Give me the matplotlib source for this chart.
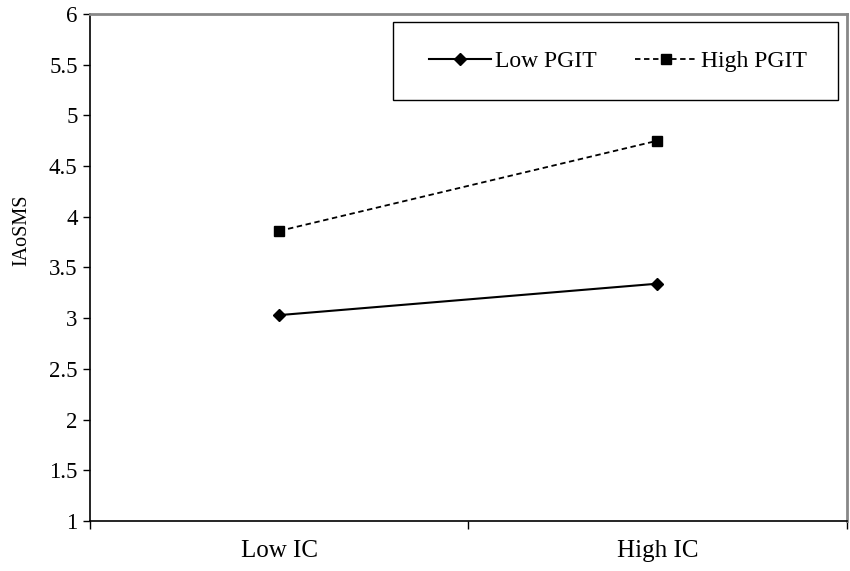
import matplotlib
matplotlib.use("Agg")
import matplotlib.pyplot as plt
from matplotlib.patches import Rectangle

plt.rcParams['font.family'] = ['Liberation Serif', 'DejaVu Serif']

categories = ['Low IC', 'High IC']
low_pgit = [3.03, 3.34]
high_pgit = [3.86, 4.75]
y_ticks = [1, 1.5, 2, 2.5, 3, 3.5, 4, 4.5, 5, 5.5, 6]

fig = plt.figure(figsize=(8.5, 5.71), dpi=100)
ax = fig.add_axes([0.106, 0.0876, 0.89, 0.888])

x = [0.5, 1.5]
ax.plot(x, low_pgit, color='black', linestyle='-', linewidth=1.5,
        marker='D', markersize=6, label='Low PGIT')
ax.plot(x, high_pgit, color='black', linestyle=(0, (3, 2)), linewidth=1.3,
        marker='s', markersize=7, label='High PGIT')

ax.set_xlim(0, 2)
ax.set_ylim(1, 6)
ax.set_yticks(y_ticks)
ax.set_yticklabels([f'{v:g}' for v in y_ticks])
ax.set_xticks([0, 1, 2])
ax.set_xticklabels([])
ax.set_xticks(x, minor=True)
ax.set_xticklabels(categories, minor=True)
ax.tick_params(axis='x', which='minor', length=0, pad=14, labelsize=18)
ax.tick_params(axis='x', which='major', length=6, direction='out', width=1)
ax.tick_params(axis='y', length=5, direction='out', width=1, labelsize=16.5, pad=4)
ax.set_ylabel('IAoSMS', fontsize=14.5)
ax.yaxis.set_label_coords(-0.078, 0.574)

ax.spines['left'].set_color('black')
ax.spines['bottom'].set_color('black')
ax.spines['left'].set_linewidth(1.2)
ax.spines['bottom'].set_linewidth(1.2)
ax.spines['top'].set_color('#888888')
ax.spines['right'].set_color('#888888')
ax.spines['top'].set_linewidth(2)
ax.spines['right'].set_linewidth(2)

ax.add_patch(Rectangle((0.40, 0.83), 0.588, 0.154, transform=ax.transAxes,
                       fill=False, edgecolor='black', linewidth=1, zorder=3))
ax.legend(loc='center', bbox_to_anchor=(0.698, 0.907), ncol=2, frameon=False,
          fontsize=17, handlelength=2.6, columnspacing=1.6, handletextpad=0.2)

fig.savefig('out.png', dpi=100)
